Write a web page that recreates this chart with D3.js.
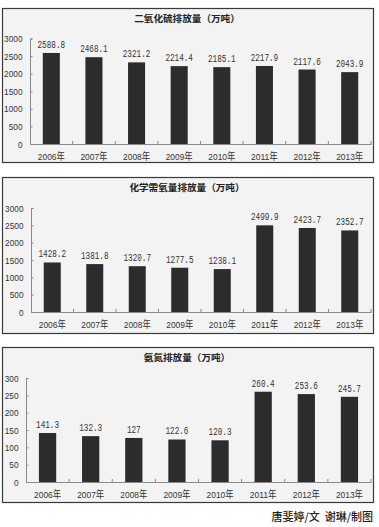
<!DOCTYPE html>
<html><head><meta charset="utf-8">
<script src="https://cdn.jsdelivr.net/npm/d3@7"></script>
<style>
html,body{margin:0;padding:0;background:#fff;}
svg{display:block;}
</style></head>
<body>
<svg id="c" width="379" height="527"></svg>
<script>
const years = ["2006年","2007年","2008年","2009年","2010年","2011年","2012年","2013年"];
const so2 = [2588.8, 2468.1, 2321.2, 2214.4, 2185.1, 2217.9, 2117.6, 2043.9];
const cod = [1428.2, 1381.8, 1320.7, 1277.5, 1238.1, 2499.9, 2423.7, 2352.7];
const nh = [141.3, 132.3, 127, 122.6, 120.3, 260.4, 253.6, 245.7];
const so2Labels = ["2588.8","2468.1","2321.2","2214.4","2185.1","2217.9","2117.6","2043.9"];
const codLabels = ["1428.2","1381.8","1320.7","1277.5","1238.1","2499.9","2423.7","2352.7"];
const nhLabels = ["141.3","132.3","127","122.6","120.3","260.4","253.6","245.7"];
const titles = ["二氧化硫排放量（万吨）","化学需氧量排放量（万吨）","氨氮排放量（万吨）"];
const ticks1 = [0,500,1000,1500,2000,2500,3000];
const ticks3 = [0,50,100,150,200,250,300];
const credit = "唐斐婷/文  谢琳/制图";

const svg = d3.select("#c");

const panels = [
  {top:8, bottom:162, y0:144, y1:38.5, x0:30, max:3000, ticks:ticks1, vals:so2, labels:so2Labels, title:titles[0]},
  {top:177, bottom:333, y0:312, y1:208, x0:31, max:3000, ticks:ticks1, vals:cod, labels:codLabels, title:titles[1]},
  {top:347, bottom:502, y0:482, y1:378, x0:26, max:300, ticks:ticks3, vals:nh, labels:nhLabels, title:titles[2]}
];

panels.forEach(p => {
  const g = svg.append("g");
  g.append("rect").attr("x",2.5).attr("y",p.top+0.5).attr("width",371).attr("height",p.bottom-p.top)
    .attr("fill","#f3f3f3").attr("stroke","#3a3a3a").attr("stroke-width",1.2);
  g.append("text").attr("x",187).attr("y",p.top+13.5)
    .attr("text-anchor","middle").attr("font-family","'Noto Sans CJK SC'").attr("font-weight","bold")
    .attr("font-size",9.6).attr("fill","#222").text(p.title);

  const x = d3.scaleBand().domain(years).range([p.x0, 371]).paddingInner(0.6).paddingOuter(0.3);
  const y = d3.scaleLinear().domain([0,p.max]).range([p.y0,p.y1]);

  // y axis
  const ya = g.append("g").attr("transform",`translate(${p.x0},0)`)
    .call(d3.axisLeft(y).tickValues(p.ticks).tickSize(-2.5).tickPadding(0).tickFormat(d=>d));
  ya.select(".domain").attr("stroke","#8a8a8a");
  ya.selectAll(".tick line").attr("stroke","#8a8a8a");
  ya.selectAll(".tick text").attr("x",-7.5).attr("text-anchor","end")
    .attr("font-family","'Liberation Sans'").attr("font-size",9.5).attr("fill","#333")
    .attr("textLength", d => String(d).length*4.6).attr("lengthAdjust","spacingAndGlyphs");

  // bars
  g.selectAll("rect.bar").data(p.vals).join("rect").attr("class","bar")
    .attr("x",(d,i)=>x(years[i])).attr("width",x.bandwidth())
    .attr("y",d=>y(d)).attr("height",d=>p.y0-y(d)).attr("fill","#2c2c2c");

  // value labels
  g.selectAll("text.val").data(p.vals).join("text").attr("class","val")
    .attr("x",(d,i)=>x(years[i])+x.bandwidth()/2).attr("y",d=>y(d)-5)
    .attr("text-anchor","middle").attr("font-family","'Liberation Mono'").attr("font-size",10.5)
    .attr("fill","#333")
    .attr("textLength",(d,i)=>p.labels[i].length*4.6).attr("lengthAdjust","spacingAndGlyphs")
    .text((d,i)=>p.labels[i]);

  // x axis
  const xa = g.append("g").attr("transform",`translate(0,${p.y0})`)
    .call(d3.axisBottom(x).tickSize(0).tickPadding(0));
  xa.select(".domain").attr("stroke","#8a8a8a");
  xa.selectAll(".tick text").attr("y",15.5).attr("dy",0)
    .attr("font-family","'Liberation Sans','Noto Sans CJK SC'").attr("font-size",9.8).attr("fill","#333")
    .attr("textLength",27).attr("lengthAdjust","spacingAndGlyphs");
  // boundary ticks pointing up
  const step = x.step();
  const bounds = years.map((d,i)=> i===0 ? null : x(d) - x.paddingInner()*step/2 ).filter(v=>v!==null);
  bounds.push(371);
  g.selectAll("line.bt").data(bounds).join("line").attr("class","bt")
    .attr("x1",d=>d).attr("x2",d=>d).attr("y1",p.y0).attr("y2",p.y0-3).attr("stroke","#8a8a8a");
});

svg.append("text").attr("x",373).attr("y",521).attr("text-anchor","end")
  .attr("font-family","'Noto Sans CJK SC'").attr("font-size",11).attr("font-weight",500)
  .attr("fill","#222").attr("xml:space","preserve").style("white-space","pre").text(credit);
</script>
</body></html>
